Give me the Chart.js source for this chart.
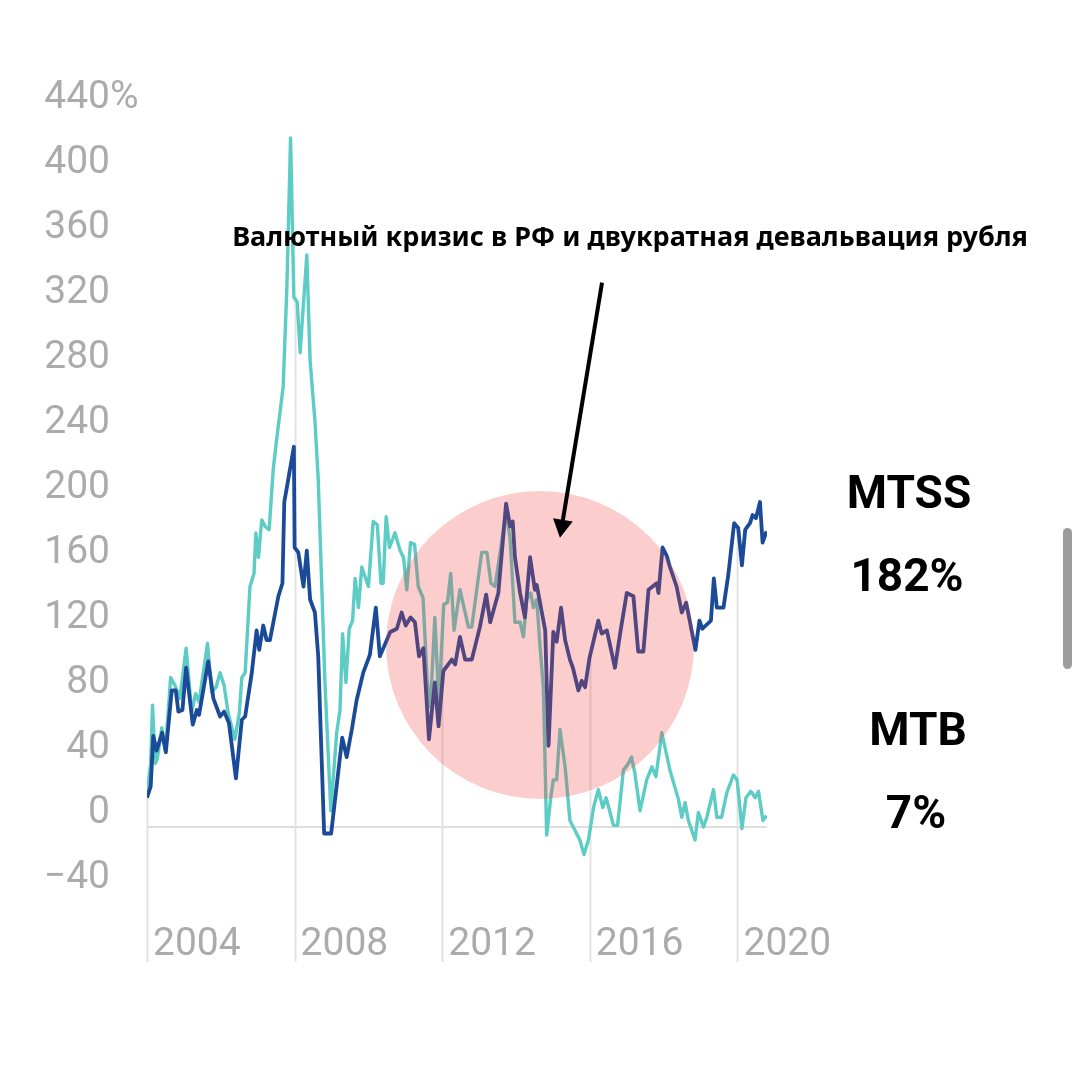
<!DOCTYPE html>
<html>
<head>
<meta charset="utf-8">
<script src="https://cdn.jsdelivr.net/npm/chart.js@4.4.1/dist/chart.umd.min.js"></script>
<style>
  html, body { margin: 0; padding: 0; background: #fff; }
  #wrap { width: 1080px; height: 1080px; position: relative; }
</style>
</head>
<body>
<div id="wrap"><canvas id="mainChart"></canvas></div>
<script>
// MTSS (dark blue), total return, %
const mtssYears = [2004.00, 2004.10, 2004.17, 2004.26, 2004.41, 2004.51, 2004.67, 2004.78, 2004.85, 2004.96,
  2005.06, 2005.24, 2005.35, 2005.41, 2005.66, 2005.80, 2005.98, 2006.09, 2006.22, 2006.41,
  2006.57, 2006.66, 2006.84, 2006.97, 2007.04, 2007.15, 2007.24, 2007.33, 2007.56, 2007.67,
  2007.72, 2007.79, 2007.98, 2008.00, 2008.10, 2008.24, 2008.33, 2008.42, 2008.55, 2008.64,
  2008.80, 2008.99, 2009.29, 2009.41, 2009.55, 2009.68, 2009.86, 2010.04, 2010.20, 2010.31,
  2010.59, 2010.77, 2010.90, 2011.01, 2011.14, 2011.26, 2011.37, 2011.49, 2011.64, 2011.80,
  2011.90, 2012.03, 2012.26, 2012.35, 2012.48, 2012.62, 2012.80, 2013.02, 2013.19, 2013.30,
  2013.52, 2013.73, 2013.84, 2013.91, 2013.97, 2014.11, 2014.24, 2014.38, 2014.51, 2014.56,
  2014.79, 2014.88, 2015.01, 2015.10, 2015.22, 2015.33, 2015.46, 2015.54, 2015.69, 2015.78,
  2015.87, 2015.99, 2016.23, 2016.32, 2016.46, 2016.68, 2016.82, 2017.00, 2017.18, 2017.31,
  2017.45, 2017.59, 2017.81, 2017.86, 2017.97, 2018.08, 2018.17, 2018.35, 2018.49, 2018.61,
  2018.86, 2018.97, 2019.05, 2019.28, 2019.36, 2019.44, 2019.62, 2019.75, 2019.91, 2020.02,
  2020.12, 2020.21, 2020.34, 2020.41, 2020.50, 2020.61, 2020.68, 2020.79];
const mtssValues = [18, 25, 56, 47, 58, 46, 84, 84, 71, 72,
  98, 63, 72, 69, 102, 79, 68, 71, 64, 30,
  66, 68, 95, 121, 109, 124, 115, 115, 142, 150,
  200, 209, 234, 172, 169, 148, 170, 140, 132, 105,
  -4, -4, 55, 43, 60, 78, 95, 106, 135, 105,
  120, 122, 132, 124, 129, 126, 105, 110, 54, 89,
  62, 96, 103, 100, 117, 103, 103, 123, 143, 126,
  144, 199, 185, 188, 166, 144, 129, 166, 146, 149,
  121, 50, 120, 114, 135, 115, 103, 98, 84, 90,
  86, 104, 127, 119, 121, 98, 119, 144, 142, 108,
  108, 146, 150, 144, 172, 167, 160, 148, 132, 138,
  109, 127, 122, 127, 153, 135, 135, 155, 187, 184,
  161, 183, 187, 192, 190, 200, 175, 182];

// MTB (teal), total return, %
const mtbYears = [2004.00, 2004.10, 2004.15, 2004.22, 2004.28, 2004.40, 2004.50, 2004.64, 2004.76, 2004.89,
  2005.06, 2005.21, 2005.32, 2005.41, 2005.64, 2005.75, 2005.87, 2005.98, 2006.09, 2006.20,
  2006.38, 2006.50, 2006.57, 2006.66, 2006.79, 2006.90, 2006.95, 2007.02, 2007.11, 2007.20,
  2007.31, 2007.42, 2007.51, 2007.69, 2007.79, 2007.89, 2007.98, 2008.07, 2008.15, 2008.33,
  2008.42, 2008.55, 2008.64, 2008.82, 2008.98, 2009.14, 2009.23, 2009.30, 2009.39, 2009.48,
  2009.57, 2009.64, 2009.73, 2009.82, 2009.91, 2010.00, 2010.13, 2010.24, 2010.34, 2010.40,
  2010.48, 2010.57, 2010.72, 2010.86, 2010.95, 2011.04, 2011.14, 2011.25, 2011.35, 2011.48,
  2011.59, 2011.68, 2011.80, 2011.91, 2012.04, 2012.14, 2012.23, 2012.32, 2012.48, 2012.71,
  2012.80, 2013.07, 2013.21, 2013.32, 2013.43, 2013.57, 2013.73, 2013.84, 2013.97, 2014.11,
  2014.20, 2014.29, 2014.40, 2014.47, 2014.56, 2014.65, 2014.74, 2014.83, 2014.94, 2015.01,
  2015.10, 2015.19, 2015.33, 2015.46, 2015.64, 2015.73, 2015.84, 2015.96, 2016.10, 2016.23,
  2016.35, 2016.44, 2016.64, 2016.75, 2016.91, 2017.04, 2017.13, 2017.22, 2017.36, 2017.54,
  2017.68, 2017.79, 2017.95, 2018.17, 2018.40, 2018.49, 2018.58, 2018.67, 2018.85, 2018.94,
  2019.08, 2019.17, 2019.35, 2019.44, 2019.57, 2019.71, 2019.89, 2019.99, 2020.12, 2020.23,
  2020.36, 2020.48, 2020.57, 2020.69, 2020.79];
const mtbValues = [21, 39, 75, 39, 42, 61, 47, 92, 87, 79,
  110, 71, 82, 77, 113, 83, 86, 95, 87, 70,
  54, 70, 92, 95, 148, 156, 181, 166, 189, 185,
  183, 220, 238, 271, 332, 424, 326, 323, 292, 352,
  287, 250, 214, 90, 10, 58, 72, 119, 89, 122,
  127, 153, 135, 160, 154, 148, 188, 186, 150, 150,
  191, 172, 181, 170, 166, 146, 175, 174, 148, 141,
  90, 74, 129, 76, 137, 138, 156, 121, 146, 123,
  123, 169, 169, 150, 148, 169, 195, 177, 126, 126,
  117, 140, 144, 135, 140, 111, 86, -5, 18, 29,
  29, 60, 37, 4, -4, -8, -17, -8, 12, 23,
  12, 18, 1, 1, 35, 39, 43, 33, 10, 29,
  37, 31, 58, 35, 17, 6, 15, 4, -8, 9,
  0, 6, 23, 6, 6, 21, 32, 29, -1, 18,
  22, 18, 22, 4, 7];

const yearTicks = [2004, 2008, 2012, 2016, 2020];
const valueTicks = [-40, 0, 40, 80, 120, 160, 200, 240, 280, 320, 360, 400, 440];

const seriesNames = ['MTSS', 'MTB'];
const finalLabels = ['182%', '7%'];
const noteText = 'Валютный кризис в РФ и двукратная девальвация рубля';

const toPoints = (xs, ys) => xs.map((x, i) => ({ x: x, y: ys[i] }));

const axisGray = '#ababab';
const axisFont = 'Roboto, "Liberation Sans", sans-serif';

// value of a series at a given year (top of the year drop lines)
function valueAt(xs, ys, yr) {
  if (yr <= xs[0]) return ys[0];
  for (let i = 1; i < xs.length; i++) {
    if (xs[i] >= yr) {
      const t = (yr - xs[i - 1]) / (xs[i] - xs[i - 1]);
      return ys[i - 1] + t * (ys[i] - ys[i - 1]);
    }
  }
  return ys[ys.length - 1];
}

const dropLines = {
  id: 'dropLines',
  beforeDatasetsDraw(chart) {
    const { ctx, scales: { x, y } } = chart;
    ctx.save();
    ctx.strokeStyle = '#e3e3e3';
    ctx.lineWidth = 2;
    yearTicks.forEach(yr => {
      const top = Math.max(valueAt(mtssYears, mtssValues, yr), valueAt(mtbYears, mtbValues, yr));
      const px = Math.round(x.getPixelForValue(yr)) + 0.5;
      ctx.beginPath();
      ctx.moveTo(px, y.getPixelForValue(top));
      ctx.lineTo(px, 962);
      ctx.stroke();
    });
    ctx.restore();
  }
};

const overlay = {
  id: 'overlay',
  afterDatasetsDraw(chart) {
    const { ctx, scales: { x, y } } = chart;
    ctx.save();
    // crisis highlight
    ctx.fillStyle = 'rgba(240, 60, 60, 0.26)';
    ctx.beginPath();
    ctx.arc(x.getPixelForValue(2014.65), y.getPixelForValue(112), 154, 0, Math.PI * 2);
    ctx.fill();
    ctx.restore();
  },
  afterDraw(chart) {
    const { ctx, scales: { x, y } } = chart;
    ctx.save();

    // "%" after the top tick label
    ctx.font = '39px ' + axisFont;
    ctx.fillStyle = axisGray;
    ctx.textAlign = 'left';
    ctx.textBaseline = 'middle';
    ctx.fillText('%', 110, y.getPixelForValue(440) - 14);

    // note text
    let size = 28;
    ctx.font = 'bold ' + size + 'px "Noto Sans", sans-serif';
    size = size * 796 / ctx.measureText(noteText).width;
    ctx.font = 'bold ' + size + 'px "Noto Sans", sans-serif';
    ctx.fillStyle = '#000';
    ctx.textAlign = 'center';
    ctx.fillText(noteText, x.getPixelForValue(2017.09), y.getPixelForValue(362));

    // arrow
    const x1 = x.getPixelForValue(2016.33), y1 = y.getPixelForValue(335);
    const x2 = x.getPixelForValue(2015.19), y2 = y.getPixelForValue(178);
    const ang = Math.atan2(y2 - y1, x2 - x1);
    ctx.strokeStyle = '#000';
    ctx.lineWidth = 4;
    ctx.beginPath();
    ctx.moveTo(x1, y1);
    ctx.lineTo(x2 - 12 * Math.cos(ang), y2 - 12 * Math.sin(ang));
    ctx.stroke();
    ctx.fillStyle = '#000';
    ctx.beginPath();
    ctx.moveTo(x2, y2);
    ctx.lineTo(x2 - 18 * Math.cos(ang) + 10 * Math.sin(ang), y2 - 18 * Math.sin(ang) - 10 * Math.cos(ang));
    ctx.lineTo(x2 - 18 * Math.cos(ang) - 10 * Math.sin(ang), y2 - 18 * Math.sin(ang) + 10 * Math.cos(ang));
    ctx.closePath();
    ctx.fill();

    // end labels on the right
    ctx.font = 'bold 46px Roboto, sans-serif';
    ctx.textAlign = 'center';
    ctx.fillText(seriesNames[0], 909, 496);
    ctx.fillText(finalLabels[0], 907, 579);
    ctx.fillText(seriesNames[1], 918, 733);
    ctx.fillText(finalLabels[1], 916, 816);

    // scrollbar
    ctx.fillStyle = '#9c9c9c';
    ctx.beginPath();
    ctx.roundRect(1063, 528, 9, 141, 4.5);
    ctx.fill();

    ctx.restore();
  }
};

new Chart(document.getElementById('mainChart'), {
  type: 'line',
  data: {
    datasets: [
      {
        label: seriesNames[0],
        data: toPoints(mtssYears, mtssValues),
        borderColor: '#1a4a98',
        borderWidth: 3.8,
        pointRadius: 0,
        tension: 0,
        borderJoinStyle: 'round'
      },
      {
        label: seriesNames[1],
        data: toPoints(mtbYears, mtbValues),
        borderColor: '#5cccc4',
        borderWidth: 3.4,
        pointRadius: 0,
        tension: 0,
        borderJoinStyle: 'round'
      }
    ]
  },
  options: {
    responsive: true,
    maintainAspectRatio: false,
    animation: false,
    layout: { padding: { top: 112, right: 313, bottom: 0, left: 0 } },
    plugins: { legend: { display: false }, tooltip: { enabled: false } },
    scales: {
      x: {
        type: 'linear',
        min: 2004,
        max: 2020.8,
        afterBuildTicks: s => { s.ticks = yearTicks.map(v => ({ value: v })); },
        afterFit: s => { s.height = 188; },
        grid: { display: false, drawTicks: false },
        border: { display: false },
        ticks: {
          autoSkip: false,
          maxRotation: 0,
          align: 'start',
          labelOffset: 6,
          padding: 30,
          color: axisGray,
          font: { family: axisFont, size: 39 },
          callback: v => String(v)
        }
      },
      y: {
        min: -40,
        max: 440,
        afterBuildTicks: s => { s.ticks = valueTicks.map(v => ({ value: v })); },
        afterFit: s => { s.width = 147; },
        grid: {
          drawTicks: false,
          lineWidth: 2,
          color: c => (c.tick && c.tick.value === 0 ? '#dedede' : 'rgba(0,0,0,0)')
        },
        border: { display: false },
        ticks: {
          autoSkip: false,
          padding: 37,
          labelOffset: -14,
          color: axisGray,
          font: { family: axisFont, size: 39 },
          callback: v => (v < 0 ? '\u2212' + Math.abs(v) : String(v))
        }
      }
    }
  },
  plugins: [dropLines, overlay]
});
</script>
</body>
</html>
